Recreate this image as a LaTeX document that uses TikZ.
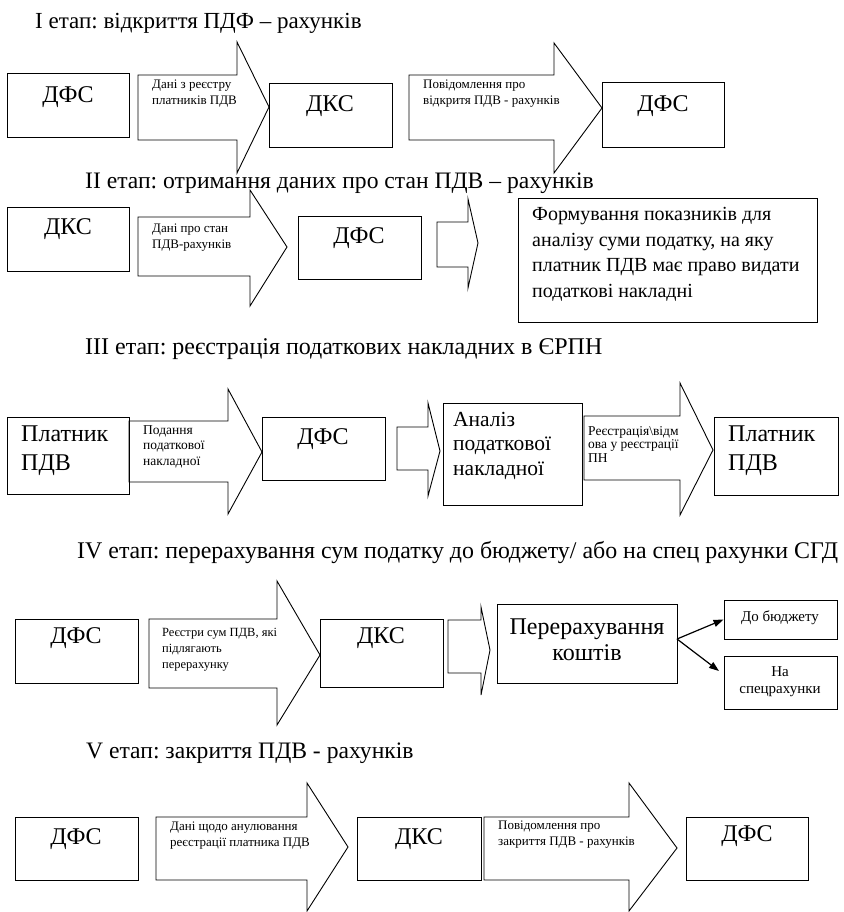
\documentclass[tikz,border=0pt]{standalone}
\usepackage{fontspec}
\setmainfont{Liberation Serif}
\usetikzlibrary{fit,arrows.meta,calc}
\frenchspacing
\tikzset{
  box/.style={draw, line width=0.9pt, inner sep=0pt},
  arrowline/.style={draw, line width=0.9pt, line join=miter},
  title/.style={font=\fontsize{23.6}{28}\selectfont, anchor=west, inner sep=0pt},
  big/.style={font=\fontsize{24}{28}\selectfont, inner sep=0pt},
  mid/.style={font=\fontsize{20}{25.7}\selectfont, inner sep=0pt, align=left},
  small/.style={font=\fontsize{13}{16}\selectfont, inner sep=0pt, align=left, anchor=north west},
  tiny/.style={font=\fontsize{13.5}{13.5}\selectfont, inner sep=0pt, align=left, anchor=north west},
  side/.style={font=\fontsize{15}{17}\selectfont, inner sep=0pt, align=center},
  payer/.style={font=\fontsize{24}{29}\selectfont, inner sep=0pt, align=left, anchor=north west},
  link/.style={line width=1.2pt, -{Triangle[length=10pt,width=7pt]}}
}
\newcommand\blockarrow[8]{%
  \draw[arrowline] (#1,#2) -- (#4,#2) -- (#4,#5) -- (#7,#8) -- (#4,#6) -- (#4,#3) -- (#1,#3) -- cycle;}
\begin{document}
\begin{tikzpicture}[x=1pt,y=-1pt]
\useasboundingbox (0,0) rectangle (843,912);

% ---------- Stage I
\node[title, font=\fontsize{23}{28}\selectfont] (s1) at (35,23) {І етап: відкриття ПДФ – рахунків};
\node[box, fit={(7,73) (129,137)}] (b1a) {};
\node[big] (t1a) at (68,97) {ДФС};
\blockarrow{138}{75}{140}{237}{42}{173}{269}{107}
\node[small] (l1a) at (152,80) {Дані з реєстру\\платників ПДВ};
\node[box, fit={(269,83) (392,147)}] (b1b) {};
\node[big] (t1b) at (330,106) {ДКС};
\blockarrow{409}{75}{140}{554}{43}{173}{602}{108}
\node[small] (l1b) at (423,80) {Повідомлення про\\відкритя ПДВ - рахунків};
\node[box, fit={(602,82) (724,147)}] (b1c) {};
\node[big] (t1c) at (663,106) {ДФС};

% ---------- Stage II
\node[title] (s2) at (85,183) {ІІ етап: отримання даних про стан ПДВ – рахунків};
\node[box, fit={(7,207) (129,271)}] (b2a) {};
\node[big] (t2a) at (68,229) {ДКС};
\blockarrow{138}{217}{276}{250}{190}{306}{287}{247}
\node[small] (l2a) at (152,224) {Дані про стан\\ПДВ-рахунків};
\node[box, fit={(298,216) (421,279)}] (b2b) {};
\node[big] (t2b) at (359,238) {ДФС};
\blockarrow{437}{222}{267}{468}{199}{288}{478}{243}
\node[box, fit={(518,198) (817,322)}] (b2c) {};
\node[mid, anchor=north west] (t2c) at (532,207) {Формування показників для\\аналізу суми податку, на яку\\платник ПДВ має право видати\\податкові накладні};

% ---------- Stage III
\node[title, font=\fontsize{24}{28}\selectfont] (s3) at (85,349) {ІІІ етап: реєстрація податкових накладних в ЄРПН};
\node[box, fit={(7,417) (129,494)}] (b3a) {};
\node[payer] (t3a) at (21,426) {Платник\\ПДВ};
\blockarrow{129}{421}{482}{228}{389}{514}{262}{452}
\node[small, font=\fontsize{13.5}{15.5}\selectfont] (l3a) at (143,425) {Подання\\податкової\\накладної};
\node[box, fit={(262,417) (385,480)}] (b3b) {};
\node[big] (t3b) at (323,439) {ДФС};
\blockarrow{397}{427}{470}{428}{403}{496}{440}{451}
\node[box, fit={(443,403) (582,505)}] (b3c) {};
\node[font=\fontsize{21.5}{24.5}\selectfont, inner sep=0pt, align=left, anchor=north west] (t3c) at (453,412) {Аналіз\\податкової\\накладної};
\blockarrow{584}{416}{480}{680}{383}{515}{713}{450}
\node[tiny] (l3c) at (588,426) {Реєстрація\textbackslash відм\\ова у реєстрації\\ПН};
\node[box, fit={(714,417) (838,495)}] (b3d) {};
\node[payer] (t3d) at (728,426) {Платник\\ПДВ};

% ---------- Stage IV
\node[title, font=\fontsize{23.9}{28}\selectfont] (s4) at (77,553) {IV етап: перерахування сум податку до бюджету/ або на спец рахунки СГД};
\node[box, fit={(15,619) (138,683)}] (b4a) {};
\node[big] (t4a) at (76,638) {ДФС};
\blockarrow{149}{619}{688}{277}{581}{725}{320}{655}
\node[small, font=\fontsize{12.5}{16}\selectfont] (l4a) at (162,628) {Реєстри сум ПДВ, які\\підлягають\\перерахунку};
\node[box, fit={(320,619) (443,687)}] (b4b) {};
\node[big] (t4b) at (381,638) {ДКС};
\blockarrow{448}{620}{673}{481}{607}{695}{490}{650}
\node[box, fit={(497,604) (677,683)}] (b4c) {};
\node[font=\fontsize{24}{26}\selectfont, inner sep=0pt, align=center] (t4c) at (587,640) {Перерахування\\коштів};
\node[box, fit={(724,600) (837,639)}] (b4d) {};
\node[side] (t4d) at (780,618) {До бюджету};
\node[box, fit={(724,656) (837,709)}] (b4e) {};
\node[side] (t4e) at (780,682) {На\\спецрахунки};
\coordinate (c4s) at (677,639);
\coordinate (c4e) at (719,671);
\draw[link] (c4s) -- (b4d.west);
\draw[link] (c4s) -- (c4e);

% ---------- Stage V
\node[title] (s5) at (86,753) {V етап: закриття ПДВ - рахунків};
\node[box, fit={(15,817) (138,880)}] (b5a) {};
\node[big] (t5a) at (76,839) {ДФС};
\blockarrow{156}{817}{880}{307}{783}{911}{348}{847}
\node[small] (l5a) at (170,822) {Дані щодо анулювання\\реєстрації платника ПДВ};
\node[box, fit={(357,817) (481,880)}] (b5b) {};
\node[big] (t5b) at (419,839) {ДКС};
\blockarrow{484}{817}{880}{629}{783}{911}{677}{848}
\node[small] (l5b) at (498,821) {Повідомлення про\\закриття ПДВ - рахунків};
\node[box, fit={(686,817) (808,880)}] (b5c) {};
\node[big] (t5c) at (747,836) {ДФС};
\end{tikzpicture}
\end{document}
